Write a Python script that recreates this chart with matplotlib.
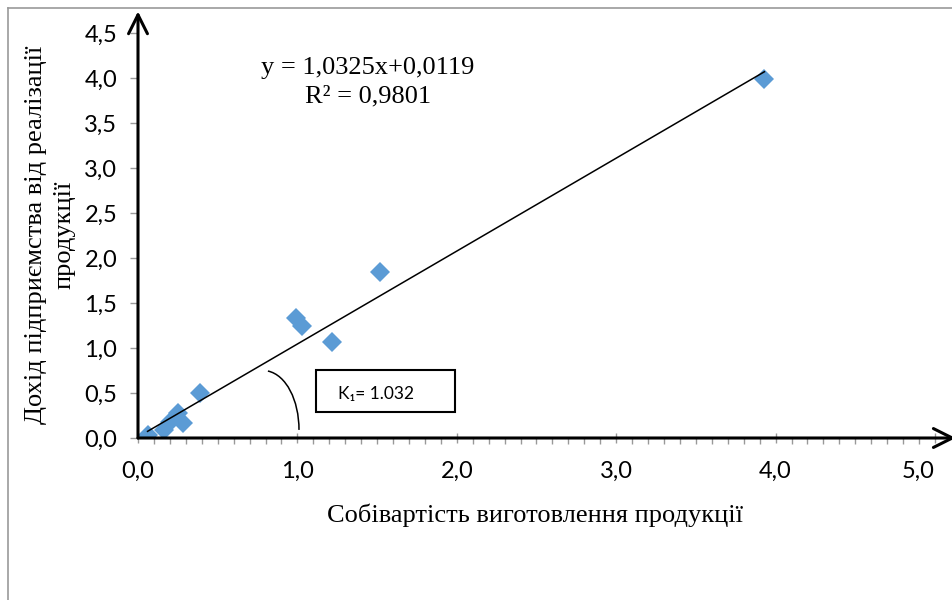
import matplotlib
matplotlib.use('Agg')
import matplotlib.pyplot as plt
import numpy as np
from matplotlib.path import Path
from matplotlib.patches import PathPatch, Rectangle
from matplotlib.lines import Line2D
from matplotlib.ticker import MultipleLocator, FixedLocator

# data
cost = [0.06, 0.16, 0.20, 0.25, 0.28, 0.39, 0.99, 1.03, 1.22, 1.52, 3.93]
income = [0.03, 0.09, 0.18, 0.28, 0.17, 0.50, 1.33, 1.25, 1.07, 1.85, 3.99]
slope = 1.0325
intercept = 0.0119
r2_text = 'R² = 0,9801'
eq_text = 'y = 1,0325x+0,0119'
k_text = 'K\u2081= 1.032'
x_ticks = [0, 1, 2, 3, 4, 5]
y_ticks = [0, 0.5, 1.0, 1.5, 2.0, 2.5, 3.0, 3.5, 4.0, 4.5]

serif = 'Liberation Serif'
sans = 'Lato'

fig = plt.figure(figsize=(9.53, 6.0), dpi=100)
ax = fig.add_axes([138/953, 162/600, 797/953, 405/600])

ax.plot(cost, income, linestyle='none', marker='D', markersize=10,
        color='#5B9BD5', markeredgewidth=0, zorder=3)

# linear trend over the data range
xl = np.array([min(cost), max(cost)])
ax.plot(xl, slope*xl + intercept, color='black', lw=1.1, zorder=4)

ax.set_xlim(0, 5)
ax.set_ylim(0, 4.5)
for s in ax.spines.values():
    s.set_visible(False)

# axes drawn as arrows
ax.annotate('', xy=(5.13, 0), xytext=(0, 0), xycoords='data',
            arrowprops=dict(arrowstyle='->', lw=2.2, color='black', mutation_scale=34,
                            shrinkA=0, shrinkB=0), annotation_clip=False)
ax.annotate('', xy=(0, 4.74), xytext=(0, 0), xycoords='data',
            arrowprops=dict(arrowstyle='->', lw=2.2, color='black', mutation_scale=34,
                            shrinkA=0, shrinkB=0), annotation_clip=False)

ax.xaxis.set_major_locator(FixedLocator(x_ticks))
ax.xaxis.set_minor_locator(MultipleLocator(0.1))
ax.yaxis.set_major_locator(FixedLocator(y_ticks))
ax.set_xticklabels([f'{v:.1f}'.replace('.', ',') for v in x_ticks])
ax.set_yticklabels([f'{v:.1f}'.replace('.', ',') for v in y_ticks])
ax.tick_params(axis='x', which='major', direction='inout', length=7, width=1,
               color='#999999', pad=13, labelsize=17)
ax.tick_params(axis='x', which='minor', direction='out', length=4, width=1,
               color='#999999')
ax.tick_params(axis='y', which='major', direction='out', length=6, width=1,
               color='#999999', pad=9, labelsize=17)
for lab in ax.get_xticklabels() + ax.get_yticklabels():
    lab.set_fontfamily(sans)
# last x label is pulled inside the chart area
ax.get_xticklabels()[-1].set_horizontalalignment('right')

ax.text(1.443, 4.11, eq_text, ha='center', va='center', fontsize=19, family=serif)
ax.text(1.443, 3.79, r2_text, ha='center', va='center', fontsize=19, family=serif)

# angle arc and coefficient box
verts = [(0.815, 0.744), (0.93, 0.70), (1.01, 0.42), (1.01, 0.09)]
arc = Path(verts, [Path.MOVETO, Path.CURVE4, Path.CURVE4, Path.CURVE4])
ax.add_patch(PathPatch(arc, facecolor='none', edgecolor='black', lw=1.1))
ax.add_patch(Rectangle((1.117, 0.289), 0.872, 0.467, facecolor='white',
                       edgecolor='black', lw=1.5, zorder=5))
ax.text(1.49, 0.49, k_text, ha='center', va='center', fontsize=12.5, family=sans, zorder=6)

fig.text(0.5614, 0.1417, 'Собівартість виготовлення продукції', ha='center', va='center',
         fontsize=19, family=serif)
fig.text(0.0525, 0.608, 'Дохід підприємства від реалізації\nпродукції', ha='center',
         va='center', rotation=90, fontsize=19, family=serif, linespacing=1.35,
         multialignment='center')

# outer chart frame (only left and top edges fall inside the picture)
fig.add_artist(Line2D([8/953, 8/953], [0, 1 - 8/600], color='#999999', lw=1.2))
fig.add_artist(Line2D([8/953, 1], [1 - 8/600, 1 - 8/600], color='#999999', lw=1.2))

fig.savefig('out.png', dpi=100)
